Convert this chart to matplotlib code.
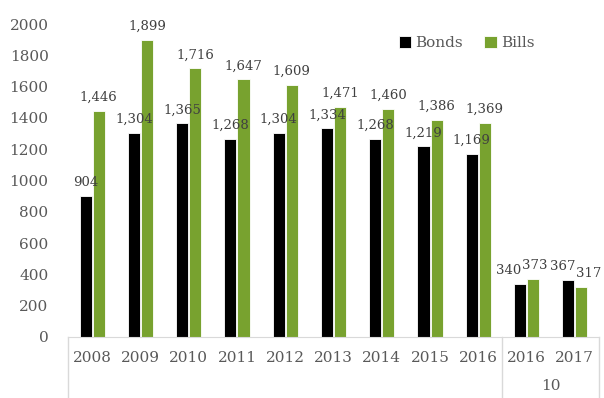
import numpy as np
import matplotlib.pyplot as plt
from matplotlib.transforms import blended_transform_factory

plt.rcParams['font.family'] = ['DejaVu Serif']

years = ['2008', '2009', '2010', '2011', '2012', '2013', '2014', '2015', '2016', '2016', '2017']
bonds = [904, 1304, 1365, 1268, 1304, 1334, 1268, 1219, 1169, 340, 367]
bills = [1446, 1899, 1716, 1647, 1609, 1471, 1460, 1386, 1369, 373, 317]
quarter_label = '10'

black = '#000000'
green = '#78A22F'
gray = '#595959'

fig = plt.figure(figsize=(6.04, 3.98), dpi=100)
ax = fig.add_axes([68 / 604, 61 / 398, 531 / 604, 313 / 398])

x = np.arange(len(years))
w = 0.25
b1 = ax.bar(x - 0.135, bonds, w, color=black, edgecolor='white', linewidth=0.6, label='Bonds')
b2 = ax.bar(x + 0.135, bills, w, color=green, edgecolor='white', linewidth=0.6, label='Bills')

# small horizontal nudges so the quarterly labels don't collide
nudge_bonds = [0] * 9 + [-8, -4]
nudge_bills = [0] * 9 + [1, 5]

for bars, vals, nudge in ((b1, bonds, nudge_bonds), (b2, bills, nudge_bills)):
    for r, v, dx in zip(bars, vals, nudge):
        ax.annotate(f'{v:,}', (r.get_x() + r.get_width() / 2, v), xytext=(dx, 5),
                    textcoords='offset points', ha='center', va='bottom',
                    fontsize=9.5, color='#404040')

ax.set_xlim(-0.5, len(years) - 0.5)
ax.set_ylim(0, 2000)
ax.set_yticks(range(0, 2001, 200))
ax.tick_params(axis='y', length=0, labelsize=11, labelcolor=gray, pad=14)
ax.set_xticks(x)
ax.set_xticklabels(years)
ax.tick_params(axis='x', length=0, labelsize=11, labelcolor=gray, pad=10)

for s in ('left', 'right', 'top'):
    ax.spines[s].set_visible(False)
ax.spines['bottom'].set_color('#d9d9d9')

# category separators below the axis
trans = blended_transform_factory(ax.transData, ax.transAxes)
for sx in (-0.5, 8.5, len(years) - 0.5):
    ax.plot([sx, sx], [0, -0.2], color='#d9d9d9', lw=1, transform=trans, clip_on=False)
ax.text(9.5, -0.155, quarter_label, transform=trans, ha='center', va='center',
        fontsize=11, color=gray)

ax.legend(loc='upper right', bbox_to_anchor=(0.905, 1.005), ncol=2, frameon=False,
          fontsize=11, labelcolor=gray, handlelength=0.8, handleheight=0.8,
          handletextpad=0.3, columnspacing=1.4)

fig.savefig('out.png', dpi=100)
